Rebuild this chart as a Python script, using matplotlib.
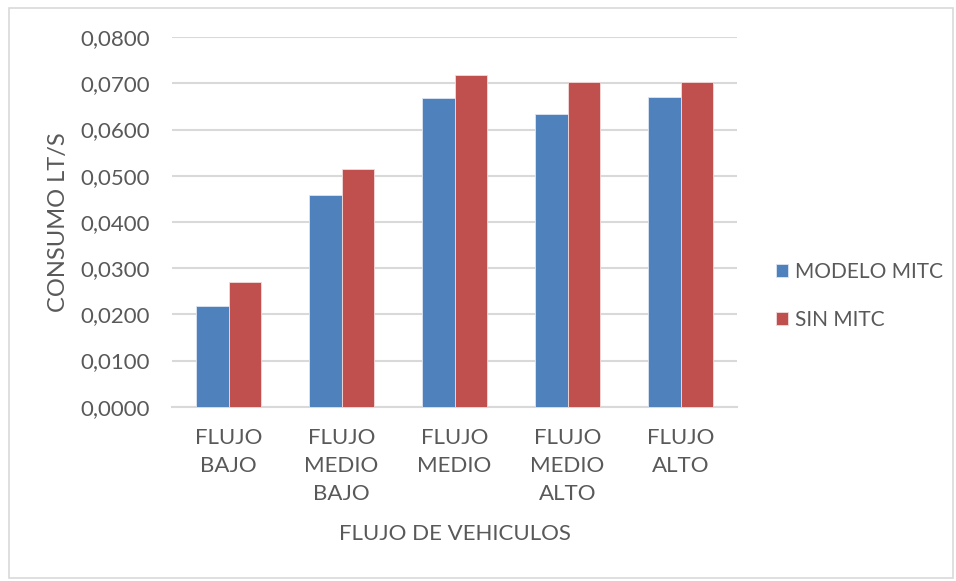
import matplotlib
matplotlib.use("Agg")
import matplotlib.pyplot as plt
import numpy as np
from matplotlib.patches import Rectangle
from matplotlib.ticker import FuncFormatter

categories = ["FLUJO\nBAJO", "FLUJO\nMEDIO\nBAJO", "FLUJO\nMEDIO", "FLUJO\nMEDIO\nALTO", "FLUJO\nALTO"]
modelo_mitc = [0.0219, 0.0458, 0.0669, 0.0633, 0.0670]
sin_mitc = [0.0270, 0.0514, 0.0718, 0.0704, 0.0703]
series_names = ["MODELO MITC", "SIN MITC"]
y_ticks = [0.0, 0.01, 0.02, 0.03, 0.04, 0.05, 0.06, 0.07, 0.08]

plt.rcParams["font.family"] = ["Lato", "DejaVu Sans"]
TEXT = "#595959"
BLUE = "#4F81BD"
RED = "#C0504D"
GRID = "#D9D9D9"
FS = 16

fig = plt.figure(figsize=(9.56, 5.81), dpi=100)
fig.patch.set_facecolor("white")
fig.add_artist(Rectangle((0.009, 0.006), 0.988, 0.981, transform=fig.transFigure,
                         fill=False, edgecolor="#D9D9D9", linewidth=1.2))

ax = fig.add_axes([0.180, 0.300, 0.591, 0.636])
x = np.arange(len(categories))
w = 0.2875
ax.bar(x - w / 2, modelo_mitc, w, color=BLUE, edgecolor="#DCE6F2", linewidth=0.6,
       label=series_names[0], zorder=3)
ax.bar(x + w / 2, sin_mitc, w, color=RED, edgecolor="#F2DCDB", linewidth=0.6,
       label=series_names[1], zorder=3)

ax.set_xlim(-0.5, len(categories) - 0.5)
ax.set_ylim(0, 0.08)
ax.set_yticks(y_ticks)
ax.yaxis.set_major_formatter(FuncFormatter(lambda v, p: f"{v:.4f}".replace(".", ",")))
ax.set_xticks(x)
ax.set_xticklabels(categories, linespacing=1.5)
ax.grid(axis="y", color=GRID, linewidth=1.5, zorder=0)
ax.set_axisbelow(True)
for s in ["top", "right", "left"]:
    ax.spines[s].set_visible(False)
ax.spines["bottom"].set_color(GRID)
ax.spines["bottom"].set_linewidth(1.5)
ax.tick_params(axis="both", length=0, colors=TEXT, labelsize=FS)
ax.tick_params(axis="y", pad=16)
ax.tick_params(axis="x", pad=15)
for lbl in ax.get_xticklabels():
    lbl.set_verticalalignment("top")

ax.set_xlabel("FLUJO DE VEHICULOS", fontsize=FS, color=TEXT, labelpad=15)
ax.set_ylabel("CONSUMO LT/S", fontsize=17, color=TEXT, labelpad=8)

leg = ax.legend(loc="center left", bbox_to_anchor=(1.035, 0.30), frameon=False,
                fontsize=15, labelcolor=TEXT, handlelength=0.6, handleheight=0.6,
                handletextpad=0.35, labelspacing=1.35)

fig.savefig("out.png", dpi=100, facecolor="white")
